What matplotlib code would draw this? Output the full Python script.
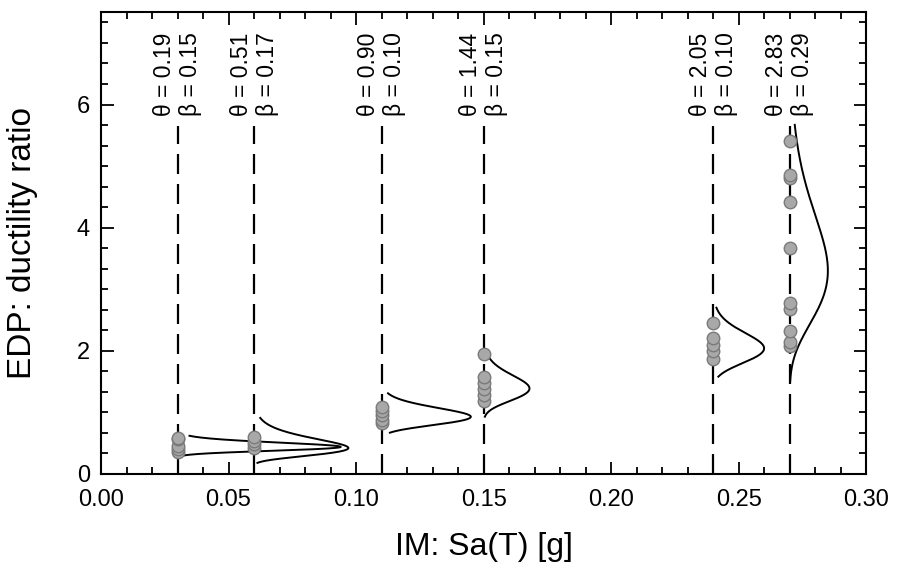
import numpy as np
import matplotlib
matplotlib.use("Agg")
import matplotlib.pyplot as plt
from matplotlib.ticker import MultipleLocator, FormatStrFormatter
import matplotlib.transforms as mtransforms

plt.rcParams['font.family'] = ['Liberation Sans', 'DejaVu Sans']

# intensity levels (Sa) where records were run
im_levels = [0.03, 0.06, 0.11, 0.15, 0.24, 0.27]

# labels shown on the plot
theta_labels = ["0.19", "0.51", "0.90", "1.44", "2.05", "2.83"]
beta_labels = ["0.15", "0.17", "0.10", "0.15", "0.10", "0.29"]

# ductility ratio of each record, per IM level
edp_points = [
    [0.36, 0.40, 0.46, 0.56, 0.59],
    [0.42, 0.48, 0.54, 0.60],
    [0.82, 0.88, 0.95, 1.02, 1.08],
    [1.18, 1.28, 1.38, 1.48, 1.58, 1.95],
    [1.87, 2.00, 2.10, 2.20, 2.45],
    [2.07, 2.15, 2.32, 2.68, 2.78, 3.67, 4.42, 4.80, 4.85, 5.40],
]

# fitted lognormal curves drawn sideways: median, dispersion, y range, peak width in Sa
curve_median = [0.45, 0.47, 0.95, 1.42, 2.07, 3.55]
curve_beta = [0.15, 0.33, 0.15, 0.15, 0.12, 0.27]
curve_lo = [0.28, 0.18, 0.67, 0.93, 1.58, 1.50]
curve_hi = [0.62, 0.91, 1.31, 1.88, 2.70, 5.67]
curve_peak = [0.064, 0.037, 0.035, 0.018, 0.020, 0.015]


def lognorm_pdf(y, med, beta):
    return np.exp(-(np.log(y) - np.log(med)) ** 2 / (2 * beta ** 2)) / (y * beta * np.sqrt(2 * np.pi))


fig = plt.figure(figsize=(8.98, 5.78), dpi=100)
ax = fig.add_axes([0.1125, 0.18, 0.852, 0.799])

off_l = mtransforms.offset_copy(ax.transData, fig=fig, x=-13, y=0, units='dots')
off_r = mtransforms.offset_copy(ax.transData, fig=fig, x=13, y=0, units='dots')

for i, x0 in enumerate(im_levels):
    # dashed vertical line for the IM level
    ax.plot([x0, x0], [0, 5.65], color='black', lw=1.6, dashes=(9, 4.5))

    # records
    ys = edp_points[i]
    ax.plot([x0] * len(ys), ys, 'o', ms=9, mfc='#a8a8a8', mec='#7a7a7a', mew=1.0, zorder=3)

    # pdf curve
    yy = np.linspace(curve_lo[i], curve_hi[i], 200)
    pdf = lognorm_pdf(yy, curve_median[i], curve_beta[i])
    ax.plot(x0 + curve_peak[i] * pdf / pdf.max(), yy, color='black', lw=1.4)

    # theta / beta labels
    ax.text(x0, 5.82, "\u03b8 = " + theta_labels[i], transform=off_l, rotation=90,
            ha='center', va='bottom', fontsize=16.5)
    ax.text(x0, 5.82, "\u03b2 = " + beta_labels[i], transform=off_r, rotation=90,
            ha='center', va='bottom', fontsize=16.5)

ax.set_xlim(0, 0.30)
ax.set_ylim(0, 7.5)
ax.xaxis.set_major_locator(MultipleLocator(0.05))
ax.xaxis.set_minor_locator(MultipleLocator(0.01))
ax.yaxis.set_major_locator(MultipleLocator(2))
ax.yaxis.set_minor_locator(MultipleLocator(1 / 3))
ax.xaxis.set_major_formatter(FormatStrFormatter('%.2f'))
ax.tick_params(which='both', direction='in', top=True, right=True, width=1.3, labelsize=17)
ax.tick_params(which='major', length=9)
ax.tick_params(which='minor', length=5)
ax.tick_params(axis='x', pad=11)
ax.tick_params(axis='y', pad=8)
for sp in ax.spines.values():
    sp.set_linewidth(1.5)

ax.set_xlabel("IM: Sa(T) [g]", fontsize=23)
ax.set_ylabel("EDP: ductility ratio", fontsize=24)
ax.xaxis.set_label_coords(0.5, -0.125)
ax.yaxis.set_label_coords(-0.082, 0.5)

fig.savefig("out.png", dpi=100)
